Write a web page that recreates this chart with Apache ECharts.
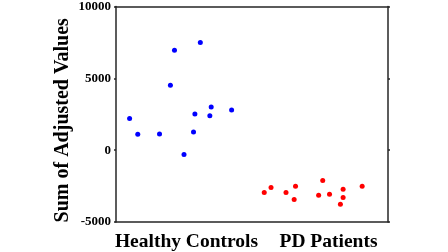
<!DOCTYPE html>
<html>
<head>
<meta charset="utf-8">
<script src="https://cdn.jsdelivr.net/npm/echarts@6/dist/echarts.min.js"></script>
<style>
  html, body { margin: 0; padding: 0; background: #fff; }
  #main { width: 448px; height: 252px; }
</style>
</head>
<body>
<div id="main"></div>
<script>
// group labels on the x axis
var groups = ['Healthy Controls', 'PD Patients'];

// jittered x position (group 1 = Healthy Controls, 2 = PD Patients) and summed value
var hcX = [0.60, 0.66, 0.82, 0.90, 0.93, 1.00, 1.07, 1.08, 1.12, 1.19, 1.20, 1.35];
var hcY = [2210, 1110, 1130, 4520, 6960, -300, 1270, 2510, 7490, 2400, 3000, 2790];

var pdX = [1.59, 1.64, 1.75, 1.81, 1.82, 1.99, 2.02, 2.07, 2.15, 2.17, 2.17, 2.31];
var pdY = [-2950, -2600, -2950, -3430, -2510, -3130, -2120, -3070, -3760, -3300, -2720, -2510];

var yMin = -5000, yMax = 10000, yStep = 5000;

function pairs(xs, ys) {
  var out = [];
  for (var i = 0; i < xs.length; i++) out.push([xs[i], ys[i]]);
  return out;
}

var chart = echarts.init(document.getElementById('main'), null, { renderer: 'canvas' });

var lineStyle = { color: '#262626', width: 1.5 };
var font = 'Liberation Serif';
var labelStyle = { color: '#000', fontFamily: font, fontWeight: 'bold', fontSize: 19.5 };

var option = {
  backgroundColor: '#ffffff',
  animation: false,
  grid: { left: 116, top: 4, right: 60, bottom: 30 },
  xAxis: [
    {
      // value axis that places the points
      type: 'value', min: 0.5, max: 2.5, show: false
    },
    {
      type: 'category', position: 'bottom', data: groups,
      axisLine: { onZero: false, lineStyle: lineStyle },
      axisTick: { alignWithLabel: true, length: 2, lineStyle: lineStyle },
      axisLabel: {
        interval: 0, margin: 10,
        formatter: function (v, i) { return i === 0 ? '{a|' + v + '}' : '{b|' + v + '}'; },
        rich: {
          a: Object.assign({ padding: [0, 0, 0, 5] }, labelStyle),
          b: Object.assign({ padding: [0, 0, 0, 17] }, labelStyle)
        }
      }
    },
    {
      type: 'category', position: 'top', data: groups,
      axisLine: { onZero: false, lineStyle: lineStyle },
      axisTick: { alignWithLabel: true, length: 2, lineStyle: lineStyle },
      axisLabel: { show: false }
    }
  ],
  yAxis: [
    {
      type: 'value', min: yMin, max: yMax, interval: yStep,
      name: 'Sum of Adjusted Values', nameLocation: 'middle', nameGap: 43,
      nameMoveOverlap: false,
      nameTextStyle: { color: '#000', fontFamily: font, fontWeight: 'bold', fontSize: 20, padding: [0, 12, 0, 0] },
      axisLine: { show: true, onZero: false, lineStyle: lineStyle },
      axisTick: { show: true, length: 2, lineStyle: lineStyle },
      axisLabel: {
        color: '#000', fontFamily: font, fontWeight: 'bold', fontSize: 13, margin: 5,
        formatter: function (v) { return String(v); }
      },
      splitLine: { show: false }
    },
    {
      type: 'value', min: yMin, max: yMax, interval: yStep, position: 'right',
      axisLine: { show: true, onZero: false, lineStyle: lineStyle },
      axisTick: { show: true, length: 2, lineStyle: lineStyle },
      axisLabel: { show: false },
      splitLine: { show: false }
    }
  ],
  series: [
    {
      name: 'Healthy Controls', type: 'scatter', xAxisIndex: 0, yAxisIndex: 0,
      symbolSize: 5, itemStyle: { color: '#0000ff', opacity: 1 },
      data: pairs(hcX, hcY)
    },
    {
      name: 'PD Patients', type: 'scatter', xAxisIndex: 0, yAxisIndex: 0,
      symbolSize: 5, itemStyle: { color: '#ff0000', opacity: 1 },
      data: pairs(pdX, pdY)
    }
  ]
};

chart.setOption(option);
</script>
</body>
</html>
